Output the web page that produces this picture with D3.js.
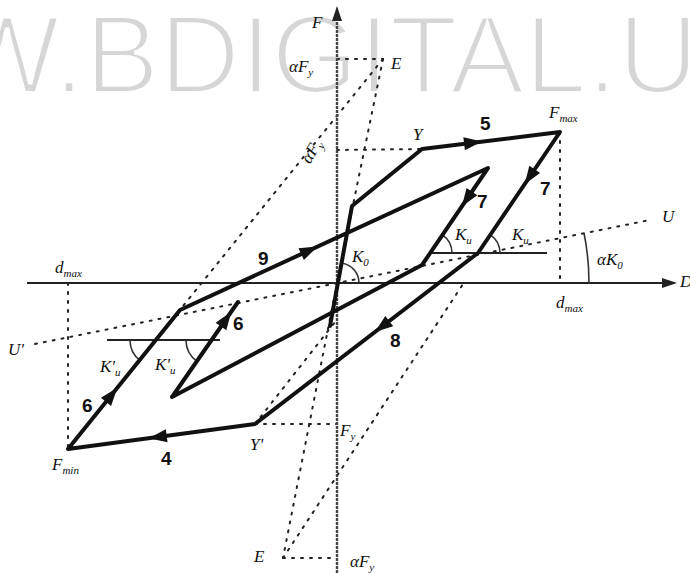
<!DOCTYPE html>
<html><head><meta charset="utf-8">
<script src="https://cdn.jsdelivr.net/npm/d3@7"></script>
<style>
html,body{margin:0;padding:0;background:#fff;}
svg{display:block;}
.sym{font-family:"Liberation Serif","DejaVu Serif",serif;font-style:italic;font-size:17px;fill:#111;}
.num{font-family:"Liberation Sans","DejaVu Sans",sans-serif;font-weight:bold;font-size:19px;fill:#111;}
</style>
</head><body>
<svg id="chart" width="690" height="573"></svg>
<script>
// Restoring-force path (displacement d, force F), in loading order
const loopD = [-0.7, 1.5, 8.5, 22.3, 14.1, -8.2, -26.9, -15.7, 15.1, 8.5, -16.5, -9.9];
const loopF = [-4.3, 7.7, 13.4, 15.1, 3.0, -14.1, -16.6, -2.7, 11.5, 1.8, -11.4, -1.9];

// Direction arrows: segment index of the path and fraction along it
const arrowSeg = [2, 3, 4, 5, 6, 7, 8, 10];
const arrowT   = [0.37, 0.37, 0.43, 0.52, 0.39, 0.42, 0.32, 0.82];

// Dotted construction lines [d0, F0, d1, F1]
const guides = [
  [0, 22.4, 4.6, 22.4],
  [4.6, 22.4, 0, 0],
  [0, 0, -5.4, -27.5],
  [4.6, 22.4, -15.4, -2.3],
  [-5.4, -27.5, 12.8, 0.2],
  [0, 13.3, 8.5, 13.4],
  [22.3, 15.1, 22.3, 0],
  [-26.9, 0, -26.9, -16.6],
  [-30.2, -6.1, 31.3, 6.3],
  [-8.2, -14.1, 0, -14.1],
  [-5.4, -27.5, 0, -27.5],
  [-8.2, -14.1, -0.2, -3.9]
];

// Horizontal reference lines for the stiffness angles [d0, d1, F]
const refLines = [
  [9.3, 21.0, 3.0],
  [-23.0, -11.7, -5.7]
];

// Stiffness angle marks: vertex, a point on the branch, reference side (1 right, -1 left)
const angleVertex = [[0.2, 0], [9.3, 3.0], [14.1, 3.0], [-18.1, -5.7], [-12.5, -5.7], [0, 0]];
const angleToward = [[1.5, 7.7], [15.1, 11.5], [22.3, 15.1], [-26.9, -16.6], [-16.5, -11.4], [31.3, 6.3]];
const angleSide   = [1, 1, 1, -1, -1, 1];
const angleRadius = [20, 22, 22, 26, 26, 252];

// Axis extents
const axisD = [-31.0, 34.0];
const axisF = [-29.5, 27.7];

// Annotations
const labelText = ["F","D","E","αF","αF","Y","5","F","7","7","K","K","K","9","d","d","U'","U","αK","K'","K'","6","6","8","Y'","4","F","F","E","αF"];
const labelSub  = ["","","","y","y","","","max","","","u","u","0","","max","max","","","0","u","u","","","","","","min","y","","y"];
const labelD    = [-2.5,34.3,5.4,-4.8,-2.1,7.6,14.3,21.2,20.3,14.0,11.8,17.5,1.5,-7.9,-28.2,21.9,-32.9,32.5,26.0,-23.7,-18.2,-10.4,-25.5,5.3,-8.7,-17.6,-28.5,0.3,-8.3,1.3];
const labelF    = [25.5,-0.4,21.4,21.1,12.9,14.3,15.3,16.5,8.8,7.5,4.3,4.3,2.1,1.8,1.0,-2.5,-7.2,6.1,1.8,-8.9,-8.7,-4.7,-12.9,-6.4,-16.7,-18.2,-18.7,-15.3,-27.9,-28.4];
const labelRot  = [0,0,0,0,-60,0,0,0,0,0,0,0,0,0,0,0,0,0,0,0,0,0,0,0,0,0,0,0,0,0];
const labelKind = ["sym","sym","sym","sym","sym","sym","num","sym","num","num","sym","sym","sym","num","sym","sym","sym","sym","sym","sym","sym","num","num","num","sym","num","sym","sym","sym","sym"];

const W = 690, H = 573;
const x = d3.scaleLinear().domain([-33.7, 35.3]).range([0, W]);
const y = d3.scaleLinear().domain([28.3, -29.0]).range([0, H]);

const svg = d3.select("#chart");

// Background watermark lettering
svg.append("text")
  .attr("x", -46).attr("y", 93)
  .style("font-family", "'Liberation Sans', Arial, sans-serif")
  .style("font-size", "112px")
  .attr("fill", "#d6d6d6")
  .attr("stroke", "#fff").attr("stroke-width", 4.2)
  .attr("paint-order", "fill")
  .text("W.BDIGITAL.U");

// Dotted construction lines
svg.append("g").selectAll("line").data(guides).join("line")
  .attr("x1", g => x(g[0])).attr("y1", g => y(g[1]))
  .attr("x2", g => x(g[2])).attr("y2", g => y(g[3]))
  .attr("stroke", "#222").attr("stroke-width", 2)
  .attr("stroke-dasharray", "2,7").attr("stroke-linecap", "round");

// Axes
const axes = svg.append("g").attr("stroke", "#222").attr("fill", "#222");
axes.append("line")
  .attr("x1", x(axisD[0])).attr("x2", x(axisD[1]) - 8)
  .attr("y1", y(0)).attr("y2", y(0)).attr("stroke-width", 2);
axes.append("path")
  .attr("d", `M${x(axisD[1])},${y(0)} l-15,-5 l0,10 Z`).attr("stroke", "none");
axes.append("line")
  .attr("x1", x(0)).attr("x2", x(0))
  .attr("y1", y(axisF[1]) + 8).attr("y2", y(axisF[0]))
  .attr("stroke", "#444").attr("stroke-width", 2.4).attr("stroke-dasharray", "3,1");
axes.append("path")
  .attr("d", `M${x(0)},${y(axisF[1])} l-5,15 l10,0 Z`).attr("stroke", "none");

// Horizontal reference lines
svg.append("g").selectAll("line").data(refLines).join("line")
  .attr("x1", r => x(r[0])).attr("x2", r => x(r[1]))
  .attr("y1", r => y(r[2])).attr("y2", r => y(r[2]))
  .attr("stroke", "#222").attr("stroke-width", 2);

// Angle arcs
const arcGen = d3.arc();
const arcG = svg.append("g");
angleVertex.forEach((c, i) => {
  const cx = x(c[0]), cy = y(c[1]);
  const px = x(angleToward[i][0]), py = y(angleToward[i][1]);
  const a = Math.atan2(px - cx, -(py - cy));
  const ref = angleSide[i] > 0 ? Math.PI / 2 : -Math.PI / 2;
  arcG.append("path")
    .attr("transform", `translate(${cx},${cy})`)
    .attr("d", arcGen({innerRadius: angleRadius[i], outerRadius: angleRadius[i],
                       startAngle: Math.min(a, ref), endAngle: Math.max(a, ref)}))
    .attr("fill", "none").attr("stroke", "#333").attr("stroke-width", 1.6);
});

// Force-displacement path
const pts = loopD.map((d, i) => [d, loopF[i]]);
svg.append("path")
  .attr("d", d3.line().x(p => x(p[0])).y(p => y(p[1]))(pts))
  .attr("fill", "none").attr("stroke", "#111").attr("stroke-width", 4)
  .attr("stroke-linejoin", "round").attr("stroke-linecap", "round");

// Direction arrowheads
svg.append("g").selectAll("path").data(arrowSeg.map((s, i) => [s, arrowT[i]])).join("path")
  .attr("transform", ([s, t]) => {
    const x0 = x(pts[s][0]), y0 = y(pts[s][1]);
    const x1 = x(pts[s + 1][0]), y1 = y(pts[s + 1][1]);
    const px = x0 + (x1 - x0) * t, py = y0 + (y1 - y0) * t;
    const ang = Math.atan2(y1 - y0, x1 - x0) * 180 / Math.PI;
    return `translate(${px},${py}) rotate(${ang})`;
  })
  .attr("d", "M9,0 L-9,-6.5 L-9,6.5 Z")
  .attr("fill", "#111");

// Labels
const lab = svg.append("g");
labelText.forEach((t, i) => {
  const tx = x(labelD[i]), ty = y(labelF[i]);
  const el = lab.append("text")
    .attr("class", labelKind[i])
    .attr("x", tx).attr("y", ty);
  if (labelRot[i]) {
    el.attr("transform", `rotate(${labelRot[i]},${tx},${ty})`).attr("text-anchor", "middle");
  }
  el.append("tspan").text(t);
  if (labelSub[i]) {
    el.append("tspan").attr("dy", 4).style("font-size", "11px").text(labelSub[i]);
  }
});
</script>
</body></html>
